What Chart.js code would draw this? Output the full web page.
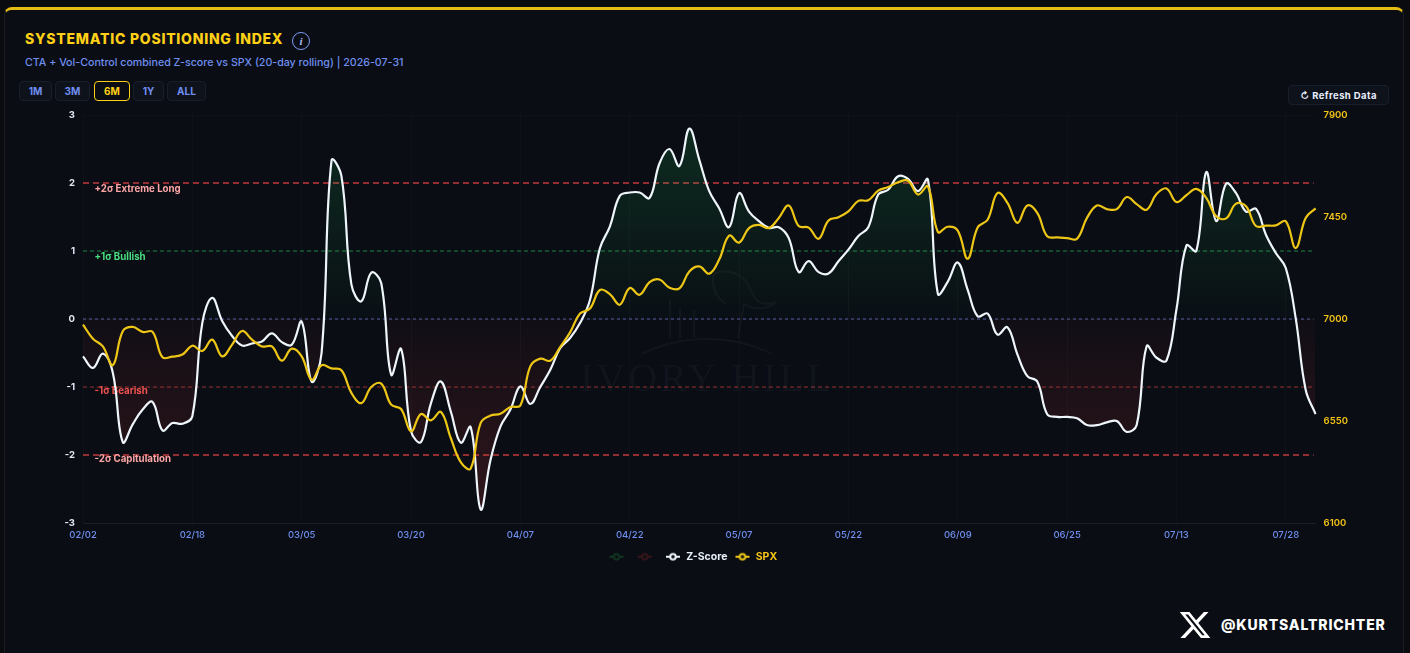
<!DOCTYPE html>
<html>
<head>
<meta charset="utf-8">
<title>Systematic Positioning Index</title>
<script src="https://cdn.jsdelivr.net/npm/chart.js@4"></script>
<style>
    html, body { margin: 0; padding: 0; background: #0a0b0e; width: 1410px; height: 653px; overflow: hidden; font-family: Inter, sans-serif; }
    .card { position: absolute; left: 4px; top: 7px; width: 1400px; height: 660px; background: #0a0d14; border-top: 3px solid #e6bd12; border-left: 1px solid #1b1d22; border-right: 1px solid #1b1d22; border-radius: 8px 8px 0 0; box-sizing: border-box; }
    .title { position: absolute; left: 25px; top: 30px; color: #ffd016; font-size: 14px; font-weight: 800; letter-spacing: 0.75px; line-height: 18px; white-space: nowrap; }
    .info { position: absolute; left: 292px; top: 32px; width: 16px; height: 16px; border: 1.5px solid #7f9cf5; border-radius: 50%; color: #a9bdf8; font: italic bold 11px/16px "Liberation Serif", serif; text-align: center; }
    .subtitle { position: absolute; left: 25px; top: 55px; color: #6f8ff0; font-size: 10.65px; font-weight: 500; line-height: 16px; white-space: nowrap; }
    .btn { position: absolute; top: 81px; height: 20px; box-sizing: border-box; border: 1px solid #191e2b; border-radius: 4px; background: #0e121b; color: #6f8ff0; font-size: 10px; font-weight: 700; line-height: 18px; text-align: center; }
    .btn.on { border-color: #ffd016; color: #ffd016; background: #0a0d14; }
    .refresh { position: absolute; left: 1288px; top: 85px; width: 101px; height: 20px; box-sizing: border-box; border: 1px solid #191e2b; border-radius: 4px; background: #0e121b; color: #e8eefc; font-size: 9.5px; font-weight: 700; letter-spacing: 0.4px; line-height: 19px; text-align: center; }
    .wrap { position: absolute; left: 0; top: 100px; width: 1410px; height: 472px; }
    .mark { position: absolute; left: 580px; top: 354px; color: rgba(255,255,255,0.035); font: 40px "Liberation Serif", serif; letter-spacing: 3px; white-space: nowrap; }
    .logo { position: absolute; left: 640px; top: 270px; }
    .xlogo { position: absolute; left: 1178px; top: 609px; }
    .handle { position: absolute; left: 1221px; top: 616px; color: #fff; font-size: 14px; font-weight: 800; letter-spacing: 0.85px; line-height: 18px; white-space: nowrap; }
</style>
</head>
<body>
<div class="card"></div>
<div class="title">SYSTEMATIC POSITIONING INDEX</div>
<div class="info">i</div>
<div class="subtitle">CTA + Vol-Control combined Z-score vs SPX (20-day rolling) | 2026-07-31</div>
<div class="btn" style="left:19px;width:33px">1M</div>
<div class="btn" style="left:55px;width:35px">3M</div>
<div class="btn on" style="left:94px;width:36px">6M</div>
<div class="btn" style="left:133px;width:31px">1Y</div>
<div class="btn" style="left:167px;width:39px">ALL</div>
<div class="refresh">↻ Refresh Data</div>

<svg class="logo" width="140" height="85" viewBox="0 0 140 85" fill="none" stroke="rgba(255,255,255,0.035)" stroke-width="2">
    <path d="M74 4c14-6 30 0 36 14 4 10 8 20 26 14-8 8-22 8-32 2-2 10-4 22-6 34M74 4c-4 10 2 24 12 30M30 30v38M40 38v30M54 40v28"/>
    <path d="M2 84c40-20 90-20 130 0"/>
</svg>
<div class="mark">IVORY HILL</div>

<div class="wrap"><canvas id="zChart"></canvas></div>

<svg class="xlogo" width="34" height="32" viewBox="0 0 24 24" preserveAspectRatio="none" fill="#fff">
    <path d="M18.244 2.25h3.308l-7.227 8.26 8.502 11.24H16.17l-5.214-6.817L4.99 21.75H1.68l7.73-8.835L1.254 2.25H8.08l4.713 6.231zm-1.161 17.52h1.833L7.084 4.126H5.117z"/>
</svg>
<div class="handle">@KURTSALTRICHTER</div>

<script>
const dates = [
    "02/02","02/03","02/04","02/05","02/06","02/09","02/10","02/11","02/12","02/13",
    "02/17","02/18","02/19","02/20","02/23","02/24","02/25","02/26","02/27","03/02",
    "03/03","03/04","03/05","03/06","03/09","03/10","03/11","03/12","03/13","03/16",
    "03/17","03/18","03/19","03/20","03/23","03/24","03/25","03/26","03/27","03/30",
    "03/31","04/01","04/02","04/06","04/07","04/08","04/09","04/10","04/13","04/14",
    "04/15","04/16","04/17","04/20","04/21","04/22","04/23","04/24","04/27","04/28",
    "04/29","04/30","05/01","05/04","05/05","05/06","05/07","05/08","05/11","05/12",
    "05/13","05/14","05/15","05/18","05/19","05/20","05/21","05/22","05/26","05/27",
    "05/28","05/29","06/01","06/02","06/03","06/04","06/05","06/08","06/09","06/10",
    "06/11","06/12","06/15","06/16","06/17","06/18","06/22","06/23","06/24","06/25",
    "06/26","06/29","06/30","07/01","07/02","07/06","07/07","07/08","07/09","07/10",
    "07/13","07/14","07/15","07/16","07/17","07/20","07/21","07/22","07/23","07/24",
    "07/27","07/28","07/29","07/30","07/31"
];

const zScore = [
    -0.55,-0.72,-0.51,-0.79,-1.81,-1.55,-1.33,-1.22,-1.64,-1.53,
    -1.54,-1.43,-0.06,0.31,-0.03,-0.25,-0.39,-0.36,-0.33,-0.21,
    -0.34,-0.38,-0.04,-0.92,-0.50,2.33,2.10,0.51,0.26,0.68,
    0.53,-0.82,-0.44,-1.65,-1.81,-1.24,-0.92,-1.36,-1.82,-1.59,
    -2.80,-2.07,-1.58,-1.33,-0.99,-1.25,-1.00,-0.75,-0.43,-0.28,
    -0.06,0.28,1.04,1.36,1.81,1.86,1.86,1.78,2.29,2.50,
    2.25,2.80,2.34,1.88,1.63,1.35,1.85,1.58,1.44,1.34,
    1.35,1.19,0.69,0.85,0.69,0.67,0.85,1.02,1.22,1.35,
    1.83,1.90,2.10,2.06,1.88,2.05,0.37,0.55,0.83,0.43,
    0.04,0.08,-0.23,-0.12,-0.52,-0.84,-0.92,-1.40,-1.44,-1.44,
    -1.46,-1.56,-1.56,-1.52,-1.50,-1.66,-1.56,-0.40,-0.57,-0.61,
    0.14,1.08,1.00,2.16,1.44,1.99,1.85,1.58,1.62,1.24,
    0.97,0.75,0.01,-1.04,-1.40
];

const spx = [
    6975,6913,6879,6796,6946,6965,6943,6943,6831,6834,
    6843,6882,6859,6909,6835,6887,6947,6909,6879,6879,
    6816,6869,6835,6732,6796,6782,6774,6674,6629,6700,
    6715,6622,6603,6504,6581,6553,6590,6475,6369,6340,
    6541,6574,6582,6612,6618,6791,6825,6816,6876,6941,
    7024,7046,7128,7110,7063,7137,7107,7163,7174,7138,
    7135,7210,7232,7200,7262,7368,7337,7401,7415,7401,
    7446,7501,7410,7403,7354,7435,7449,7475,7521,7524,
    7566,7582,7603,7610,7549,7585,7384,7407,7390,7266,
    7404,7438,7556,7512,7424,7501,7468,7365,7360,7357,
    7354,7446,7501,7485,7485,7538,7507,7482,7551,7576,
    7516,7546,7574,7534,7453,7444,7509,7497,7410,7412,
    7413,7431,7313,7446,7488
];

const zTicks = { min: -3, max: 3, step: 1 };
const spxTicks = { min: 6100, max: 7900, step: 450 };
const xTickEvery = 11;

const thresholdValues = [2, 1, 0, -1, -2];
const thresholdLabels = ["+2σ Extreme Long", "+1σ Bullish", "", "-1σ Bearish", "-2σ Capitulation"];

// Stil der Schwellenlinien, gleiche Reihenfolge wie thresholdValues
const thresholdLineColors = ["rgba(239,68,68,0.8)", "rgba(34,197,94,0.65)", "rgba(129,140,248,0.65)", "rgba(239,68,68,0.6)", "rgba(239,68,68,0.8)"];
const thresholdTextColors = ["#fca5a5", "#4ade80", "", "#ef5350", "#fca5a5"];
const thresholdWidths = [1.3, 1, 1, 1, 1.3];
const thresholdDashes = [[6, 4], [4, 3], [3, 3], [4, 3], [6, 4]];
const thresholdTextOffsets = [6.5, 6.5, 0, 4, 4];

Chart.defaults.font.family = "Inter, sans-serif";

// Legendensymbol: Linie mit kleinem Kreis
function legendIcon(color) {
    const c = document.createElement('canvas');
    c.width = 16;
    c.height = 10;
    const g = c.getContext('2d');
    g.strokeStyle = color;
    g.lineWidth = 2;
    g.beginPath();
    g.moveTo(1, 5);
    g.lineTo(15, 5);
    g.stroke();
    g.fillStyle = '#0a0d14';
    g.beginPath();
    g.arc(8, 5, 2.8, 0, Math.PI * 2);
    g.fill();
    g.stroke();
    return c;
}

function zoneGradient(context, r, g, b, topZ, bottomZ, topAlpha, bottomAlpha) {
    const chart = context.chart;
    if (!chart.chartArea) return 'transparent';
    const y = chart.scales.y;
    const grad = chart.ctx.createLinearGradient(0, y.getPixelForValue(topZ), 0, y.getPixelForValue(bottomZ));
    grad.addColorStop(0, `rgba(${r},${g},${b},${topAlpha})`);
    grad.addColorStop(1, `rgba(${r},${g},${b},${bottomAlpha})`);
    return grad;
}

const thresholdPlugin = {
    id: 'thresholds',
    beforeDatasetsDraw(chart) {
        const { ctx, chartArea, scales } = chart;
        ctx.save();
        thresholdValues.forEach((v, i) => {
            const y = scales.y.getPixelForValue(v);
            ctx.strokeStyle = thresholdLineColors[i];
            ctx.lineWidth = thresholdWidths[i];
            ctx.setLineDash(thresholdDashes[i]);
            ctx.beginPath();
            ctx.moveTo(chartArea.left, y);
            ctx.lineTo(chartArea.right - 2, y);
            ctx.stroke();
            if (thresholdLabels[i]) {
                ctx.setLineDash([]);
                ctx.fillStyle = thresholdTextColors[i];
                ctx.font = '700 9.7px Inter, sans-serif';
                ctx.textBaseline = 'middle';
                ctx.fillText(thresholdLabels[i], chartArea.left + 11.5, y + thresholdTextOffsets[i]);
            }
        });
        ctx.restore();
    }
};

window.zChartInstance = new Chart(document.getElementById('zChart'), {
    type: 'line',
    plugins: [thresholdPlugin],
    data: {
        labels: dates,
        datasets: [
            {
                label: '',
                data: zScore,
                yAxisID: 'y',
                borderWidth: 0,
                pointRadius: 0,
                tension: 0.4,
                pointStyle: legendIcon('#123522'),
                backgroundColor: c => zoneGradient(c, 34, 197, 94, 2.8, 0, 0.17, 0.015),
                fill: { target: { value: 0 }, below: 'transparent' },
                order: 3
            },
            {
                label: '',
                data: zScore,
                yAxisID: 'y',
                borderWidth: 0,
                pointRadius: 0,
                tension: 0.4,
                pointStyle: legendIcon('#38161b'),
                backgroundColor: c => zoneGradient(c, 239, 68, 68, 0, -2.8, 0.03, 0.17),
                fill: { target: { value: 0 }, above: 'transparent' },
                order: 3
            },
            {
                label: 'Z-Score',
                data: zScore,
                yAxisID: 'y',
                borderColor: '#eef5fb',
                borderWidth: 2.2,
                pointRadius: 0,
                tension: 0.4,
                pointStyle: legendIcon('#eef5fb'),
                fill: false,
                order: 2
            },
            {
                label: 'SPX',
                data: spx,
                yAxisID: 'y1',
                borderColor: '#eec716',
                borderWidth: 2.2,
                pointRadius: 0,
                tension: 0.4,
                pointStyle: legendIcon('#eec716'),
                fill: false,
                order: 1
            }
        ]
    },
    options: {
        responsive: true,
        maintainAspectRatio: false,
        animation: false,
        layout: { padding: { left: 15, right: 39.4, top: 15, bottom: 0 } },
        plugins: {
            tooltip: { enabled: false },
            legend: {
                position: 'bottom',
                labels: {
                    usePointStyle: true,
                    pointStyleWidth: 16,
                    boxHeight: 10,
                    padding: 7,
                    font: { size: 10.5, weight: '700' },
                    sort: (a, b) => a.datasetIndex - b.datasetIndex,
                    generateLabels(chart) {
                        const items = Chart.defaults.plugins.legend.labels.generateLabels(chart);
                        const colors = ['#123522', '#38161b', '#e8f0fa', '#f5c518'];
                        items.forEach(it => { it.fontColor = colors[it.datasetIndex]; });
                        return items;
                    }
                }
            }
        },
        scales: {
            x: {
                afterFit(scale) { scale.height = 21.5; },
                grid: {
                    color: c => c.index % xTickEvery === 0 ? 'rgba(255,255,255,0.025)' : 'transparent',
                    drawTicks: false
                },
                border: { color: 'rgba(255,255,255,0.06)' },
                ticks: {
                    autoSkip: false,
                    maxRotation: 0,
                    padding: 6,
                    color: '#6f8ff0',
                    font: { size: 9.5, weight: '500' },
                    callback(value, index) { return index % xTickEvery === 0 ? dates[index] : ''; }
                }
            },
            y: {
                position: 'left',
                min: zTicks.min,
                max: zTicks.max,
                afterFit(scale) { scale.width = 68; },
                grid: { color: 'rgba(255,255,255,0.02)', drawTicks: false },
                border: { display: false },
                ticks: { stepSize: zTicks.step, padding: 8, color: '#dfe7f2', font: { size: 9.5, weight: '700' } }
            },
            y1: {
                position: 'right',
                min: spxTicks.min,
                max: spxTicks.max,
                afterFit(scale) { scale.width = 55; },
                grid: { display: false, drawTicks: false },
                border: { display: false },
                ticks: {
                    stepSize: spxTicks.step,
                    padding: 8,
                    color: '#f5c518',
                    font: { size: 9.5, weight: '600' },
                    callback: v => String(v)
                }
            }
        }
    }
});
</script>
</body>
</html>
